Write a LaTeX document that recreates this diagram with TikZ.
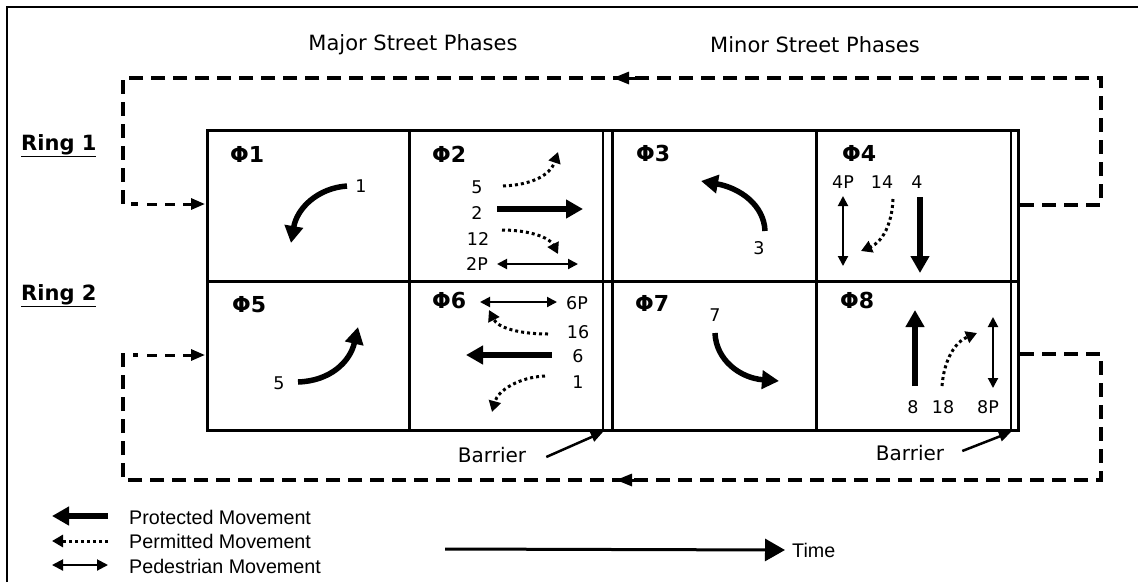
\documentclass[tikz,border=0pt]{standalone}
\usepackage{fontspec}
\setmainfont{DejaVu Sans}
\newfontfamily\legfont{Liberation Sans}
\usetikzlibrary{arrows.meta}
\tikzset{
  cellline/.style={line width=3pt},
  thinbar/.style={line width=1.5pt},
  loopline/.style={line width=4pt, dash pattern=on 14pt off 8pt},
  loopin/.style={line width=3pt, dash pattern=on 10pt off 8pt, -{Triangle[length=14pt,width=11pt]}},
  loophead/.style={line width=3pt, -{Triangle[length=16pt,width=12pt]}},
  prot/.style={line width=5.5pt, -{Triangle[length=17pt,width=18pt]}},
  perm/.style={line width=3pt, dash pattern=on 3pt off 3pt, -{Triangle[length=11pt,width=12pt]}},
  ped/.style={line width=2pt, {Triangle[length=10pt,width=10pt]}-{Triangle[length=10pt,width=10pt]}},
  barr/.style={line width=2.5pt, -{Triangle[length=12pt,width=10pt]}},
  num/.style={font=\fontsize{17.5}{20}\selectfont, inner sep=0pt},
  phl/.style={font=\fontsize{22}{25}\selectfont\bfseries, inner sep=0pt, anchor=base west},
  ringl/.style={font=\fontsize{21}{24}\selectfont\bfseries, inner sep=0pt, anchor=base west},
  title/.style={font=\fontsize{21}{24}\selectfont, inner sep=0pt},
  legt/.style={font=\legfont\fontsize{19.7}{22}\selectfont, inner sep=0pt, anchor=west},
}
\begin{document}
\begin{tikzpicture}[x=1pt,y=-1pt]
\useasboundingbox (0,0) rectangle (1138,582);
% outer frame
\draw[line width=2pt] (7,582) -- (7,7) -- (1138,7);
% titles
\node[title] (t1) at (413,45) {Major Street Phases};
\node[title] (t2) at (815,45) {Minor Street Phases};
\node[ringl] (r1) at (21,150) {\underline{Ring 1}};
\node[ringl] (r2) at (21,300) {\underline{Ring 2}};
% grid
\draw[cellline] (207,130) rectangle (1018,430);
\draw[cellline] (207,281) -- (1018,281);
\draw[cellline] (409,130) -- (409,430);
\draw[cellline] (816,130) -- (816,430);
\draw[cellline] (612,130) -- (612,430);
\draw[thinbar] (603,130) -- (603,430);
\draw[thinbar] (1011,130) -- (1011,430);
% loops
\coordinate (in1) at (205,204);
\coordinate (in2) at (205,355);
\draw[loopline] (1020,205) -- (1101,205) -- (1101,78) -- (123,78) -- (123,204) -- (138,204);
\draw[loopin] (147,204) -- (in1);
\draw[loophead] (640,78) -- (613,78);
\draw[loopline] (1020,354) -- (1101,354) -- (1101,480) -- (123,480) -- (123,355) -- (138,355);
\draw[loopin] (147,355) -- (in2);
\draw[loophead] (644,480) -- (616,480);
% phase labels
\node[phl] (p1) at (230,162) {Φ1};
\node[phl] (p2) at (432,162) {Φ2};
\node[phl] (p3) at (636,161) {Φ3};
\node[phl] (p4) at (842,161) {Φ4};
\node[phl] (p5) at (232,312) {Φ5};
\node[phl] (p6) at (432,308) {Φ6};
\node[phl] (p7) at (635,311) {Φ7};
\node[phl] (p8) at (840,308) {Φ8};
% Phi 1
\node[num] (n1) at (361,186) {1};
\draw[prot] (347,186) .. controls (318,188) and (297,208) .. (291,243);
% Phi 2
\node[num] (n5) at (477,187) {5};
\node[num] (n2) at (477,213) {2};
\node[num] (n12) at (478,239) {12};
\node[num] (n2p) at (477,264) {2P};
\draw[perm] (503,186) .. controls (530,185) and (550,176) .. (558,152);
\draw[prot] (497,209) -- (583,209);
\draw[perm] (502,230) .. controls (530,230) and (550,238) .. (558,254);
\draw[ped] (497,264) -- (578,264);
% Phi 3
\node[num] (n3) at (759,248) {3};
\draw[prot] (765,231) .. controls (764,205) and (740,188) .. (701,181);
% Phi 4
\node[num] (n4p) at (843,182) {4P};
\node[num] (n14) at (882,182) {14};
\node[num] (n4) at (917,182) {4};
\draw[ped] (843,196) -- (843,266);
\draw[perm] (893,199) .. controls (892,225) and (882,242) .. (861,251);
\draw[prot] (920,197) -- (920,273);
% Phi 5
\node[num] (n5b) at (279,383) {5};
\draw[prot] (298,382) .. controls (330,381) and (350,362) .. (358,327);
% Phi 6
\node[num] (n6p) at (577,303) {6P};
\node[num] (n16) at (578,332) {16};
\node[num] (n6) at (578,356) {6};
\node[num] (n1b) at (578,382) {1};
\draw[ped] (480,302) -- (557,302);
\draw[perm] (548,334) .. controls (520,334) and (498,328) .. (489,310);
\draw[prot] (552,355) -- (466,355);
\draw[perm] (545,376) .. controls (520,377) and (498,390) .. (492,412);
% Phi 7
\node[num] (n7) at (715,315) {7};
\draw[prot] (715,333) .. controls (716,360) and (740,378) .. (779,381);
% Phi 8
\node[num] (n8) at (913,407) {8};
\node[num] (n18) at (943,407) {18};
\node[num] (n8p) at (988,407) {8P};
\draw[prot] (915,386) -- (915,310);
\draw[perm] (942,386) .. controls (944,360) and (955,342) .. (977,333);
\draw[ped] (993,317) -- (993,388);
% barriers
\node[title, font=\fontsize{20}{24}\selectfont] (bar1) at (492,455) {Barrier};
\node[title, font=\fontsize{20}{24}\selectfont] (bar2) at (910,453) {Barrier};
\coordinate (bx1) at (603,432);
\coordinate (bx2) at (1011,432);
\draw[barr] ([xshift=20pt,yshift=-2pt]bar1.east) -- (bx1);
\draw[barr] ([xshift=18pt,yshift=2pt]bar2.east) -- (bx2);
% legend
\draw[line width=5.5pt, -{Triangle[length=17pt,width=18pt]}] (108,516) -- (52,516);
\draw[line width=3pt, dash pattern=on 3pt off 3pt, -{Triangle[length=11pt,width=12pt]}] (108,541) -- (52,541);
\draw[line width=2pt, {Triangle[length=11pt,width=11pt]}-{Triangle[length=11pt,width=11pt]}] (52,565) -- (108,565);
\node[legt] (l1) at (129,517) {Protected Movement};
\node[legt] (l2) at (129,541) {Permitted Movement};
\node[legt] (l3) at (129,566) {Pedestrian Movement};
% time
\node[legt] (tm) at (792,550) {Time};
\draw[line width=3pt, -{Triangle[length=20pt,width=22pt]}] (445,549) -- ([xshift=-7pt]tm.west);
\end{tikzpicture}
\end{document}
